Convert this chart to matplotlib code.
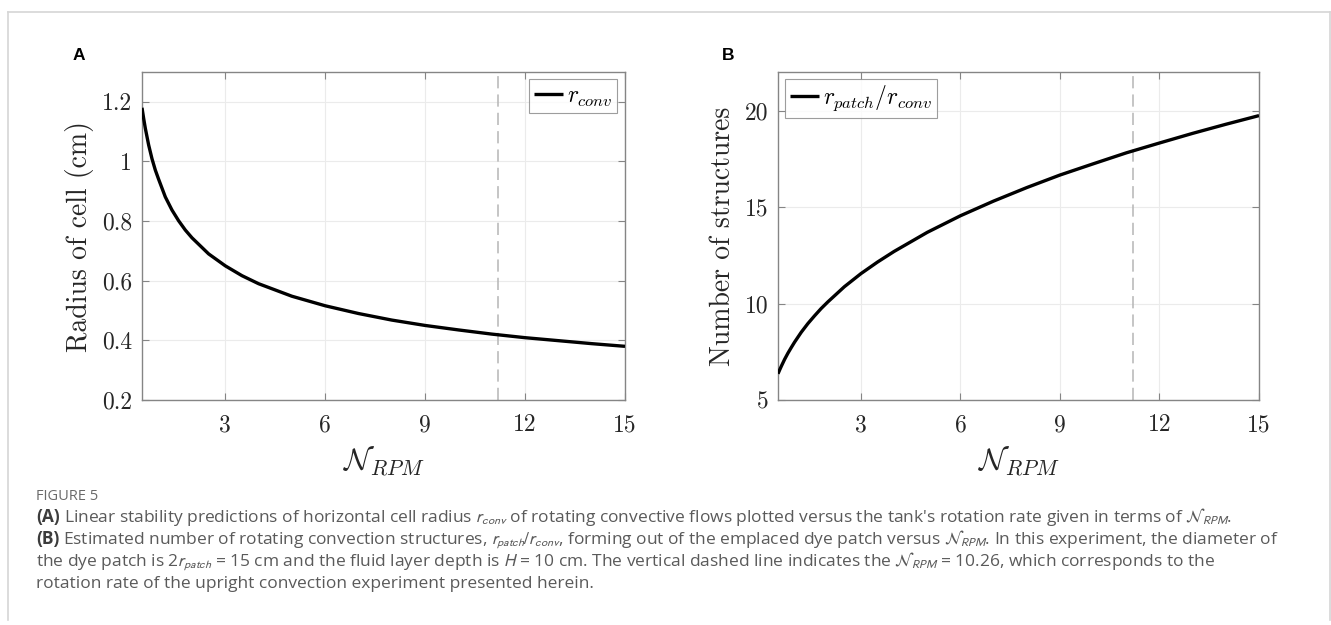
import matplotlib
matplotlib.use("Agg")
import matplotlib.pyplot as plt
from matplotlib.lines import Line2D

# ---------------- data ----------------
n_rpm = [0.5, 0.55, 0.6, 0.7, 0.8, 0.9, 1.0, 1.2, 1.4, 1.6, 1.8, 2.0, 2.5, 3.0,
         3.5, 4.0, 5.0, 6.0, 7.0, 8.0, 9.0, 10.0, 11.0, 12.0, 13.0, 14.0, 15.0]
radius_conv = [1.18, 1.144, 1.111, 1.055, 1.009, 0.971, 0.94, 0.881, 0.837, 0.801,
               0.770, 0.744, 0.690, 0.650, 0.617, 0.590, 0.548, 0.516, 0.490, 0.468,
               0.450, 0.435, 0.421, 0.409, 0.399, 0.389, 0.380]
n_structures = [6.36, 6.56, 6.75, 7.11, 7.43, 7.72, 8.0, 8.51, 8.96, 9.36, 9.74,
                10.08, 10.87, 11.55, 12.15, 12.70, 13.69, 14.55, 15.31, 16.01,
                16.66, 17.24, 17.81, 18.32, 18.82, 19.29, 19.74]
n_rpm_marker = 11.2

xticks = [3, 6, 9, 12, 15]
xticklabels = ["3", "6", "9", "12", "15"]
yticks_a = [0.2, 0.4, 0.6, 0.8, 1.0, 1.2]
yticklabels_a = ["0.2", "0.4", "0.6", "0.8", "1", "1.2"]
yticks_b = [5, 10, 15, 20]
yticklabels_b = ["5", "10", "15", "20"]

# ---------------- styling ----------------
plt.rcParams["mathtext.fontset"] = "cm"
plt.rcParams["axes.unicode_minus"] = False

W, H = 1331, 625
fig = plt.figure(figsize=(W / 100, H / 100), dpi=100)
fig.patch.set_facecolor("white")

def px_axes(x0, y0, x1, y1):
    return fig.add_axes([x0 / W, 1 - y1 / H, (x1 - x0) / W, (y1 - y0) / H])

TICK_FS = 17
LABEL_FS = 20
XLABEL_FS = 22
SPINE = "#858585"
TXT = "#262626"

def style_axes(ax, yt, ytl, ylim, ylabel):
    ax.set_xlim(0.5, 15)
    ax.set_ylim(*ylim)
    ax.set_xticks(xticks)
    ax.set_xticklabels(xticklabels, fontfamily="cmr10", fontsize=TICK_FS, color=TXT)
    ax.set_yticks(yt)
    ax.set_yticklabels(ytl, fontfamily="cmr10", fontsize=TICK_FS, color=TXT)
    ax.tick_params(direction="in", length=5, width=0.8, color=SPINE,
                   top=True, right=True, pad=7)
    ax.tick_params(axis="x", pad=10)
    for s in ax.spines.values():
        s.set_color(SPINE)
        s.set_linewidth(1.0)
    ax.grid(True, color="#ebebeb", linewidth=0.8)
    ax.set_axisbelow(True)
    ax.set_xlabel(r"$\mathcal{N}_{RPM}$", fontsize=XLABEL_FS, color=TXT, labelpad=6)
    ax.set_ylabel(ylabel, fontfamily="cmr10", fontsize=LABEL_FS, color=TXT, labelpad=6)

def style_legend(leg):
    fr = leg.get_frame()
    fr.set_edgecolor(SPINE)
    fr.set_linewidth(0.8)

leg_kw = dict(fontsize=17, frameon=True, fancybox=False, handlelength=1.25,
              handletextpad=0.15, borderpad=0.2, borderaxespad=0)

# Panel A
axA = px_axes(142, 72, 625, 400)
style_axes(axA, yticks_a, yticklabels_a, (0.2, 1.3), "Radius of cell (cm)")
axA.axvline(n_rpm_marker, color="#b5b5b5", linewidth=1.1, dashes=(8, 4), zorder=1)
axA.plot(n_rpm, radius_conv, color="black", linewidth=2.4, label=r"$r_{conv}$",
         solid_capstyle="butt", zorder=3)
legA = axA.legend(loc="upper right", bbox_to_anchor=(0.983, 0.979), **leg_kw)
style_legend(legA)

# Panel B
axB = px_axes(778, 72, 1259, 400)
style_axes(axB, yticks_b, yticklabels_b, (5, 22), "Number of structures")
axB.axvline(n_rpm_marker, color="#b5b5b5", linewidth=1.1, dashes=(8, 4), zorder=1)
axB.plot(n_rpm, n_structures, color="black", linewidth=2.4,
         label=r"$r_{patch}/r_{conv}$", solid_capstyle="butt", zorder=3)
legB = axB.legend(loc="upper left", bbox_to_anchor=(0.015, 0.979), **leg_kw)
style_legend(legB)

# Panel letters
fig.text(79 / W, 1 - 55 / H, "A", fontfamily="Liberation Sans", fontweight="bold",
         fontsize=12.5, ha="center", va="center", color="black")
fig.text(728 / W, 1 - 55 / H, "B", fontfamily="Liberation Sans", fontweight="bold",
         fontsize=12.5, ha="center", va="center", color="black")

# Outer frame (left, top, right)
frame_c = "#d6d6d6"
for xs, ys in [([7.5, 7.5], [620, 12]), ([7.5, 1329.5], [12, 12]),
               ([1329.5, 1329.5], [620, 12])]:
    fig.add_artist(Line2D([x / W for x in xs], [1 - y / H for y in ys],
                          transform=fig.transFigure, color=frame_c, linewidth=1.2))

# Caption
CAP = "#5a5a5a"
cap_font = "Open Sans"
fig.text(36 / W, 1 - 496 / H, "FIGURE 5", fontfamily=cap_font, fontsize=10.5,
         color="#6a6a6a", va="center", ha="left")

renderer = fig.canvas.get_renderer()
X0 = 36

cap_lines = [
    (522, "(A)", r"Linear stability predictions of horizontal cell radius $r_{conv}$ of rotating convective flows plotted versus the tank's rotation rate given in terms of $\mathcal{N}_{RPM}$."),
    (544, "(B)", r"Estimated number of rotating convection structures, $r_{patch}/r_{conv}$, forming out of the emplaced dye patch versus $\mathcal{N}_{RPM}$. In this experiment, the diameter of"),
    (566, None, r"the dye patch is 2$r_{patch}$ = 15 cm and the fluid layer depth is $H$ = 10 cm. The vertical dashed line indicates the $\mathcal{N}_{RPM}$ = 10.26, which corresponds to the"),
    (588, None, r"rotation rate of the upright convection experiment presented herein."),
]

def draw_line(y, bold, rest, fs):
    x = X0
    arts = []
    if bold:
        t = fig.text(x / W, 1 - y / H, bold, fontfamily=cap_font, fontweight="bold",
                     fontsize=fs, color="#3c3c3c", va="baseline", ha="left")
        arts.append(t)
        x = t.get_window_extent(renderer).x1 + fs * 0.3
    t2 = fig.text(x / W, 1 - y / H, rest, fontfamily=cap_font, fontsize=fs,
                  color=CAP, va="baseline", ha="left", math_fontfamily="stixsans")
    arts.append(t2)
    return arts, t2.get_window_extent(renderer).x1

# fit caption size so that line (B) ends where it does in the reference
fs = 12.0
arts, right = draw_line(*cap_lines[1][:3], fs)
for a in arts:
    a.remove()
fs = fs * (1275 - X0) / (right - X0)

for y, bold, rest in cap_lines:
    draw_line(y, bold, rest, fs)

fig.savefig("out.png", dpi=100, facecolor="white")
